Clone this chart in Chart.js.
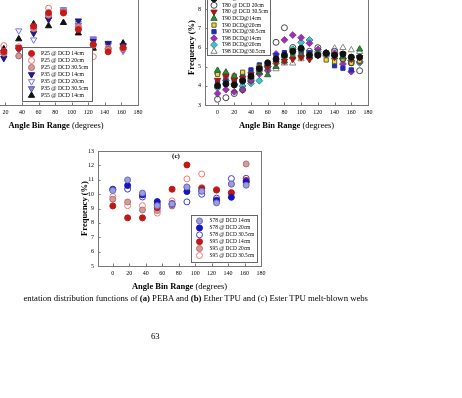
<!DOCTYPE html>
<html>
<head>
<meta charset="utf-8">
<script src="https://cdn.jsdelivr.net/npm/chart.js@4.4.1/dist/chart.umd.min.js"></script>
<style>
html,body{margin:0;padding:0;background:#fff;}
body{width:462px;height:398px;overflow:hidden;position:relative;font-family:"Liberation Serif",serif;}
canvas{position:absolute;}
.txt{position:absolute;white-space:nowrap;color:#000;font-size:8.7px;line-height:10px;}
</style>
</head>
<body>
<canvas id="chartA"></canvas>
<canvas id="chartB"></canvas>
<canvas id="chartC"></canvas>
<div class="txt" id="caption" style="right:94px;top:293px;">entation distribution functions of <b>(a)</b> PEBA and <b>(b)</b> Ether TPU and (c) Ester TPU melt-blown webs</div>
<div class="txt" id="pageNo" style="left:151px;top:331px;">63</div>
<script>
const xTicks = [0, 20, 40, 60, 80, 100, 120, 140, 160, 180];

// (a) PEBA
const anglesA = [0, 18, 36, 54, 72, 90, 108, 126, 144, 162];
const p25_14 = [8.3, 8.71, 8.95, 10.48, 11.42, 11.4, 10.25, 9.22, 8.7, 9.0];
const p25_20 = [8.6, 9.13, 9.05, 10.4, 11.73, 11.45, 10.35, 8.36, 8.95, 8.95];
const p25_30 = [8.4, 8.6, 8.41, 10.3, 11.25, 11.5, 10.45, 9.15, 8.85, 8.9];
const p35_14 = [8.0, 8.25, 9.01, 9.99, 10.95, 11.45, 10.86, 9.43, 9.3, 9.15];
const p35_20 = [8.2, 8.41, 10.17, 9.54, 11.0, 11.65, 10.7, 9.62, 9.25, 8.75];
const p35_30 = [8.1, 8.55, 8.83, 10.2, 11.1, 11.55, 10.55, 9.55, 9.15, 8.85];
const p55_14 = [8.5, 8.9, 9.59, 10.63, 10.5, 10.73, 10.0, 8.94, 9.05, 9.3];
const yTicksA = [5, 6, 7, 8, 9, 10, 11, 12, 13];

// (b) Ether TPU
const anglesB = [0, 10, 20, 30, 40, 50, 60, 70, 80, 90, 100, 110, 120, 130, 140, 150, 160, 170];
const t80_14 = [4.0, 4.1, 4.05, 4.25, 4.5, 4.9, 5.2, 5.4, 5.6, 5.8, 5.96, 5.6, 5.6, 5.7, 5.6, 5.66, 5.5, 5.49];
const t80_20 = [3.3, 3.38, 3.6, 3.8, 4.3, 4.8, 5.0, 6.27, 7.03, 6.0, 5.9, 5.8, 5.99, 5.7, 5.8, 5.4, 5.2, 4.79];
const t80_30 = [4.3, 4.5, 4.3, 4.4, 4.6, 4.9, 5.0, 5.2, 5.3, 5.4, 5.49, 5.38, 5.6, 5.65, 5.5, 5.66, 5.4, 5.49];
const t90_14 = [4.8, 4.71, 4.5, 4.4, 4.46, 4.7, 4.57, 5.0, 5.3, 5.5, 5.6, 5.5, 5.7, 5.73, 5.5, 5.5, 5.4, 5.91];
const t90_20 = [4.6, 4.5, 4.51, 4.71, 4.6, 5.0, 5.0, 5.26, 5.26, 5.52, 5.5, 5.52, 5.6, 5.35, 5.26, 5.4, 5.18, 5.3];
const t90_30 = [4.2, 4.3, 4.27, 4.51, 4.83, 5.09, 5.7, 5.6, 5.73, 5.73, 5.7, 5.73, 5.61, 5.73, 5.05, 4.92, 4.83, 5.31];
const t98_14 = [3.6, 3.8, 3.69, 3.78, 4.25, 4.62, 4.79, 5.66, 6.4, 6.65, 6.51, 6.22, 5.9, 5.7, 5.7, 5.14, 4.74, 5.26];
const t98_20 = [3.9, 4.27, 4.08, 3.99, 4.13, 4.27, 5.0, 5.18, 5.5, 5.91, 6.27, 6.39, 5.78, 5.6, 5.61, 5.44, 5.31, 5.2];
const t98_30 = [4.7, 4.6, 4.5, 4.4, 4.5, 4.7, 4.9, 4.88, 5.18, 5.18, 5.4, 5.5, 5.6, 5.6, 5.96, 5.99, 5.87, 5.78];
const yTicksB = [3, 4, 5, 6, 7, 8, 9];

// (c) Ester TPU
const anglesC = [0, 18, 36, 54, 72, 90, 108, 126, 144, 162];
const s78_14 = [10.25, 10.99, 10.07, 9.2, 9.32, 10.5, 10.2, 9.39, 10.7, 10.62];
const s78_20 = [10.3, 10.6, 9.95, 9.48, 9.3, 10.18, 10.22, 9.55, 9.78, 10.85];
const s78_30 = [10.35, 10.35, 9.8, 9.3, 9.35, 9.46, 9.99, 9.72, 11.08, 11.1];
const s95_14 = [9.18, 8.35, 8.35, 9.06, 10.34, 12.03, 10.4, 10.28, 10.1, 10.95];
const s95_20 = [9.65, 9.45, 8.9, 8.86, 9.18, 10.48, 10.45, 9.6, 10.7, 12.1];
const s95_30 = [9.83, 9.2, 9.2, 8.68, 9.53, 11.06, 11.4, 10.32, 10.1, 10.8];
const yTicksC = [5, 6, 7, 8, 9, 10, 11, 12, 13];

const serif = '"Liberation Serif", "Times New Roman", serif';
const none = 'rgba(0,0,0,0)';

function series(label, xs, ys, style){
  return Object.assign({
    label: label,
    data: xs.map((x, i) => ({x: x, y: ys[i]})),
    showLine: false,
    pointRadius: 3,
    pointBorderWidth: 1
  }, style);
}
function dot(fill, line){ return {pointStyle:'circle', pointBackgroundColor:fill, pointBorderColor:line || fill}; }
function ring(line){ return {pointStyle:'circle', pointBackgroundColor:none, pointBorderColor:line}; }
function tri(fill, line, down){ return {pointStyle:'triangle', pointRadius:3.6, pointRotation: down ? 180 : 0, pointBackgroundColor:fill, pointBorderColor:line || fill}; }
function box(fill, line){ return {pointStyle:'rect', pointRadius:3, pointBackgroundColor:fill, pointBorderColor:line || fill}; }
function diamond(fill, line){ return {pointStyle:'rectRot', pointRadius:3.4, pointBackgroundColor:fill, pointBorderColor:line || fill}; }

const boxLegend = {
  id: 'boxLegend',
  afterDatasetsDraw(chart, args, o){
    if (!o.w) return;
    const ctx = chart.ctx;
    const x = o.x - o.ox, y = o.y - o.oy;
    ctx.save();
    ctx.fillStyle = '#fff';
    ctx.fillRect(x, y, o.w, o.h);
    ctx.strokeStyle = '#666';
    ctx.lineWidth = 1;
    ctx.strokeRect(Math.round(x) + 0.5, Math.round(y) + 0.5, Math.round(o.w), Math.round(o.h));
    ctx.textBaseline = 'middle';
    ctx.textAlign = 'left';
    chart.data.datasets.forEach((ds, i) => {
      const ry = y + o.first + i * o.row;
      ctx.save();
      ctx.fillStyle = ds.pointBackgroundColor;
      ctx.strokeStyle = ds.pointBorderColor;
      ctx.lineWidth = ds.pointBorderWidth;
      Chart.helpers.drawPoint(ctx, {pointStyle: ds.pointStyle, radius: ds.pointRadius, rotation: ds.pointRotation || 0, borderWidth: ds.pointBorderWidth}, x + o.mx, ry);
      ctx.restore();
      ctx.fillStyle = '#000';
      ctx.font = o.size + 'px ' + serif;
      ctx.fillText(ds.label, x + o.tx, ry);
    });
    ctx.restore();
  }
};

const frame = {
  id: 'frame',
  afterDraw(chart, args, o){
    const ctx = chart.ctx, a = chart.chartArea, sx = chart.scales.x, sy = chart.scales.y;
    ctx.save();
    ctx.strokeStyle = '#777';
    ctx.lineWidth = 1;
    ctx.strokeRect(Math.round(a.left) + 0.5, Math.round(a.top) + 0.5, Math.round(a.right - a.left), Math.round(a.bottom - a.top));
    ctx.beginPath();
    sx.ticks.forEach(t => {
      const px = Math.round(sx.getPixelForValue(t.value)) + 0.5;
      ctx.moveTo(px, a.bottom); ctx.lineTo(px, a.bottom - 2.5);
    });
    sy.ticks.forEach(t => {
      const py = Math.round(sy.getPixelForValue(t.value)) + 0.5;
      ctx.moveTo(a.left, py); ctx.lineTo(a.left + 2.5, py);
    });
    ctx.stroke();

    ctx.fillStyle = '#000';
    ctx.textAlign = 'center';
    ctx.textBaseline = 'middle';
    ctx.font = 'bold ' + o.titleSize + 'px ' + serif;
    ctx.save();
    ctx.translate(a.left - o.yGap, (a.top + a.bottom) / 2);
    ctx.rotate(-Math.PI / 2);
    ctx.fillText('Frequency (%)', 0, 0);
    ctx.restore();

    const bold = 'Angle Bin Range', norm = ' (degrees)';
    const fb = 'bold ' + o.titleSize + 'px ' + serif, fn = o.titleSize + 'px ' + serif;
    ctx.font = fb; const wb = ctx.measureText(bold).width;
    ctx.font = fn; const wn = ctx.measureText(norm).width;
    const x0 = (a.left + a.right) / 2 - (wb + wn) / 2;
    ctx.textAlign = 'left';
    ctx.font = fb; ctx.fillText(bold, x0, a.bottom + o.xGap);
    ctx.font = fn; ctx.fillText(norm, x0 + wb, a.bottom + o.xGap);

    if (o.panel){
      ctx.textAlign = 'center';
      ctx.font = 'bold 7px ' + serif;
      ctx.fillText(o.panel, o.panelX - o.ox, o.panelY - o.oy);
    }
    ctx.restore();
  }
};

const m = {l: 45, t: 14, r: 14, b: 34};

function makeChart(id, area, datasets, yMin, yMax, yTicks, xMin, extra){
  const cv = document.getElementById(id);
  const left = area.l - m.l, top = area.t - m.t;
  const w = area.r + m.r - left, h = area.b + m.b - top;
  cv.width = w; cv.height = h;
  cv.style.width = w + 'px'; cv.style.height = h + 'px';
  cv.style.left = left + 'px'; cv.style.top = top + 'px';
  const tickFont = {family: serif, size: 6};
  const leg = Object.assign({ox: left, oy: top}, extra.legend);
  const fr = Object.assign({ox: left, oy: top, titleSize: 8.5, yGap: 13.5, xGap: 20.5}, extra.frame);
  return new Chart(cv.getContext('2d'), {
    type: 'scatter',
    data: {datasets: datasets},
    options: {
      responsive: false,
      animation: false,
      devicePixelRatio: 1,
      layout: {padding: {left: 0, top: m.t, right: m.r, bottom: 0}},
      plugins: {legend: {display: false}, tooltip: {enabled: false}, boxLegend: leg, frame: fr},
      scales: {
        x: {
          type: 'linear', min: xMin, max: 180,
          afterBuildTicks: s => { s.ticks = xTicks.map(v => ({value: v})); },
          afterFit: s => { s.height = m.b; },
          ticks: {font: tickFont, color: '#000', padding: 4, maxRotation: 0, autoSkip: false},
          grid: {display: false, drawTicks: false},
          border: {display: false}
        },
        y: {
          type: 'linear', min: yMin, max: yMax,
          afterBuildTicks: s => { s.ticks = yTicks.map(v => ({value: v})); },
          afterFit: s => { s.width = m.l; },
          ticks: {font: tickFont, color: '#000', padding: 4, autoSkip: false},
          grid: {display: false, drawTicks: false},
          border: {display: false}
        }
      }
    },
    plugins: [boxLegend, frame]
  });
}

makeChart('chartA', {l: -26, t: -10, r: 138, b: 105}, [
  series('P25 @ DCD 14cm', anglesA, p25_14, dot('#c41a1a')),
  series('P25 @ DCD 20cm', anglesA, p25_20, ring('#ee6f6f')),
  series('P25 @ DCD 30.5cm', anglesA, p25_30, dot('#d59a9a', '#b46a6a')),
  series('P35 @ DCD 14cm', anglesA, p35_14, tri('#1c1c86', '#1c1c86', true)),
  series('P35 @ DCD 20cm', anglesA, p35_20, tri(none, '#7070f0', true)),
  series('P35 @ DCD 30.5cm', anglesA, p35_30, tri('#8a8ad8', '#5858b0', true)),
  series('P55 @ DCD 14cm', anglesA, p55_14, tri('#111', '#111', false))
], 5, 13, yTicksA, -18, {
  legend: {x: 22, y: 47, w: 70, h: 54, first: 6.5, row: 7, mx: 9.5, tx: 19, size: 5.7}
});

makeChart('chartB', {l: 205, t: -10, r: 368, b: 105}, [
  series('T80 @ DCD 14cm', anglesB, t80_14, dot('#111')),
  series('T80 @ DCD 20cm', anglesB, t80_20, ring('#444')),
  series('T80 @ DCD 30.5cm', anglesB, t80_30, tri('#a01818', '#a01818', true)),
  series('T90 DCD@14cm', anglesB, t90_14, tri('#2f8a3a', '#1f6a2a', false)),
  series('T90 DCD@20cm', anglesB, t90_20, box('#e6d84a', '#6a6020')),
  series('T90 DCD@30.5cm', anglesB, t90_30, box('#1f2fb0', '#1f2fb0')),
  series('T98 DCD@14cm', anglesB, t98_14, diamond('#9a32b0', '#9a32b0')),
  series('T98 DCD@20cm', anglesB, t98_20, diamond('#3cc8c8', '#2a8a8a')),
  series('T98 DCD@30.5cm', anglesB, t98_30, tri(none, '#888', false))
], 3, 9, yTicksB, -15, {
  legend: {x: 207, y: -7, w: 63, h: 62, first: 5.7, row: 6.6, mx: 7, tx: 15, size: 5.5}
});

makeChart('chartC', {l: 98, t: 151, r: 261, b: 266}, [
  series('S78 @ DCD 14cm', anglesC, s78_14, dot('#9c9edc', '#6a6cc0')),
  series('S78 @ DCD 20cm', anglesC, s78_20, dot('#1414c0')),
  series('S78 @ DCD 30.5cm', anglesC, s78_30, ring('#3a3ad2')),
  series('S95 @ DCD 14cm', anglesC, s95_14, dot('#c01818')),
  series('S95 @ DCD 20cm', anglesC, s95_20, dot('#d49c9c', '#b87070')),
  series('S95 @ DCD 30.5cm', anglesC, s95_30, ring('#f07a7a'))
], 5, 13, yTicksC, -18, {
  legend: {x: 191, y: 215, w: 66, h: 47, first: 6, row: 6.9, mx: 8.5, tx: 18.5, size: 5.4},
  frame: {panel: '(c)', panelX: 176, panelY: 156}
});
</script>
</body>
</html>
